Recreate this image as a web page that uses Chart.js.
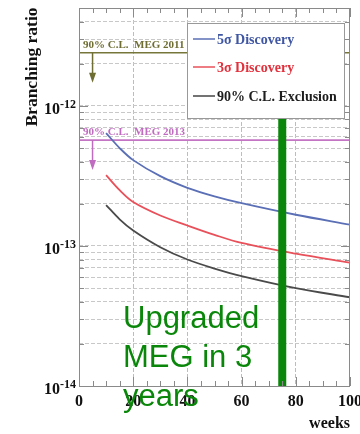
<!DOCTYPE html>
<html>
<head>
<meta charset="utf-8">
<script src="https://cdn.jsdelivr.net/npm/chart.js@4/dist/chart.umd.min.js"></script>
<style>
  body { margin: 0; background: #fff; }
  canvas { display: block; }
</style>
</head>
<body>
<canvas id="reach" width="360" height="434"></canvas>
<script>
// sensitivity curves vs. running time (weeks)
var weeks = [10, 15, 20, 30, 40, 50, 60, 80, 100];
var discovery5 = [6.4e-13, 5.0e-13, 4.1e-13, 3.15e-13, 2.6e-13, 2.26e-13, 2.02e-13, 1.67e-13, 1.42e-13];
var discovery3 = [3.2e-13, 2.5e-13, 2.06e-13, 1.65e-13, 1.4e-13, 1.2e-13, 1.05e-13, 8.8e-14, 7.6e-14];
var exclusion90 = [1.96e-13, 1.55e-13, 1.29e-13, 0.98e-13, 8.0e-14, 6.9e-14, 6.1e-14, 5.0e-14, 4.3e-14];

// published limits
var meg2011 = 2.4e-12;
var meg2013 = 5.7e-13;

// upgrade marker
var upgradeWeek = 75;
var upgradeTop = 8.3e-13;

var xTicks = [0, 20, 40, 60, 80, 100];
var yDecades = [-14, -13, -12];

var serif = '"Liberation Serif", "DejaVu Serif", serif';

function pts(xs, ys) {
    return xs.map(function (x, i) { return {x: x, y: ys[i]}; });
}

function logTicks() {
    var out = [];
    for (var e = -14; e <= -12; e++) {
        for (var k = 1; k <= 9; k++) {
            var v = k * Math.pow(10, e);
            if (v <= 5.0001e-12) out.push({value: v});
        }
    }
    return out;
}

var overlay = {
    id: 'overlay',
    beforeDraw: function (chart) {
        var c = chart.ctx;
        c.save();
        c.fillStyle = '#fff';
        c.fillRect(0, 0, chart.width, chart.height);
        c.restore();
    },
    afterDatasetsDraw: function (chart) {
        var c = chart.ctx, a = chart.chartArea;
        var xs = chart.scales.x, ys = chart.scales.y;
        c.save();

        // frame
        c.strokeStyle = '#8a8a8a';
        c.lineWidth = 1;
        c.strokeRect(a.left + 0.5, a.top + 0.5, a.right - a.left - 1, a.bottom - a.top);

        // x ticks top and bottom
        for (var w = 0; w <= 100; w += 5) {
            var px = Math.round(xs.getPixelForValue(w)) + 0.5;
            var len = (w % 20 === 0) ? 9 : 5;
            c.beginPath();
            c.moveTo(px, a.bottom); c.lineTo(px, a.bottom - len);
            c.moveTo(px, a.top); c.lineTo(px, a.top + len);
            c.stroke();
        }
        // y ticks left and right
        logTicks().forEach(function (t) {
            var py = Math.round(ys.getPixelForValue(t.value)) + 0.5;
            var major = Math.abs(Math.log10(t.value) - Math.round(Math.log10(t.value))) < 1e-6;
            var len = major ? 9 : 5;
            c.beginPath();
            c.moveTo(a.left, py); c.lineTo(a.left + len, py);
            c.moveTo(a.right, py); c.lineTo(a.right - len, py);
            c.stroke();
        });

        // limit labels and arrows
        function limit(val, label, color) {
            var py = ys.getPixelForValue(val);
            c.fillStyle = color;
            c.strokeStyle = color;
            c.font = 'bold 11px ' + serif;
            c.textAlign = 'left';
            c.textBaseline = 'alphabetic';
            c.fillText(label, a.left + 4, py - 5);
            var ax = xs.getPixelForValue(5);
            c.lineWidth = 1.5;
            c.beginPath();
            c.moveTo(ax, py); c.lineTo(ax, py + 24);
            c.stroke();
            c.beginPath();
            c.moveTo(ax - 3.5, py + 20); c.lineTo(ax + 3.5, py + 20); c.lineTo(ax, py + 30);
            c.closePath();
            c.fill();
        }
        limit(meg2011, '90% C.L.  MEG 2011', '#6e6e33');
        limit(meg2013, '90% C.L.  MEG 2013', '#c06cc0');

        // legend
        c.fillStyle = '#fff';
        c.fillRect(187, 23, 157, 95);
        c.strokeStyle = '#999';
        c.lineWidth = 1;
        c.strokeRect(187.5, 23.5, 157, 95);
        var entries = [
            ['5\u03c3 Discovery', '#3f56a2', '#5a6fb5', 39],
            ['3\u03c3 Discovery', '#e2303c', '#e8505a', 67],
            ['90% C.L. Exclusion', '#1e1e1e', '#444', 96]
        ];
        c.font = 'bold 14px ' + serif;
        c.textBaseline = 'middle';
        entries.forEach(function (e) {
            c.strokeStyle = e[2];
            c.lineWidth = 1.5;
            c.beginPath();
            c.moveTo(193, e[3]); c.lineTo(215, e[3]);
            c.stroke();
            c.fillStyle = e[1];
            c.fillText(e[0], 217, e[3] + 1);
        });

        // tick labels
        c.fillStyle = '#111';
        c.textBaseline = 'alphabetic';
        c.font = 'bold 16px ' + serif;
        c.textAlign = 'center';
        xTicks.forEach(function (t) {
            c.fillText(String(t), xs.getPixelForValue(t), 406);
        });
        c.textAlign = 'right';
        c.fillText('weeks', a.right, 428);

        yDecades.forEach(function (e) {
            var py = ys.getPixelForValue(Math.pow(10, e));
            c.font = 'bold 12px ' + serif;
            c.textAlign = 'right';
            var sup = String(e);
            c.fillText(sup, 76, py + 2);
            var sw = c.measureText(sup).width;
            c.font = 'bold 16px ' + serif;
            c.fillText('10', 76 - sw, py + 8);
        });

        // axis title
        c.save();
        c.translate(37, 67);
        c.rotate(-Math.PI / 2);
        c.font = 'bold 17.5px ' + serif;
        c.textAlign = 'center';
        c.fillText('Branching ratio', 0, 0);
        c.restore();

        // upgrade note
        c.fillStyle = '#0a870a';
        c.font = '31px "Liberation Sans", Arial, sans-serif';
        c.textAlign = 'left';
        c.fillText('Upgraded', 123, 328);
        c.fillText('MEG in 3', 123, 367);
        c.fillText('years', 123, 406);

        c.restore();
    }
};

new Chart(document.getElementById('reach'), {
    type: 'line',
    data: {
        datasets: [
            {data: [{x: upgradeWeek, y: upgradeTop}, {x: upgradeWeek, y: 1e-14}], borderColor: '#0a870a', borderWidth: 8, borderCapStyle: 'butt', tension: 0},
            {data: pts(weeks, discovery5), borderColor: '#5a6fb5', borderWidth: 1.8},
            {data: pts(weeks, discovery3), borderColor: '#e8505a', borderWidth: 1.8},
            {data: pts(weeks, exclusion90), borderColor: '#4a4a4a', borderWidth: 1.8},
            {data: [{x: 0, y: meg2011}, {x: 100, y: meg2011}], borderColor: '#76763a', borderWidth: 1.5, tension: 0},
            {data: [{x: 0, y: meg2013}, {x: 100, y: meg2013}], borderColor: '#c476c4', borderWidth: 1.8, tension: 0}
        ]
    },
    options: {
        responsive: false,
        animation: false,
        devicePixelRatio: 1,
        layout: {padding: {left: 79, right: 10, top: 8, bottom: 48}},
        elements: {
            point: {radius: 0},
            line: {tension: 0.35, fill: false}
        },
        plugins: {legend: {display: false}, tooltip: {enabled: false}},
        scales: {
            x: {
                type: 'linear', min: 0, max: 100,
                afterBuildTicks: function (s) { s.ticks = [20, 40, 60, 80].map(function (v) { return {value: v}; }); },
                afterFit: function (s) { s.height = 0; },
                ticks: {display: false},
                grid: {color: '#bdbdbd', drawTicks: false},
                border: {display: false, dash: [4, 2]}
            },
            y: {
                type: 'logarithmic', min: 1e-14, max: 5e-12,
                afterBuildTicks: function (s) { s.ticks = logTicks(); },
                afterFit: function (s) { s.width = 0; },
                ticks: {display: false, autoSkip: false},
                grid: {color: '#c8c8c8', drawTicks: false},
                border: {display: false, dash: [4, 2]}
            }
        }
    },
    plugins: [overlay]
});
</script>
</body>
</html>
